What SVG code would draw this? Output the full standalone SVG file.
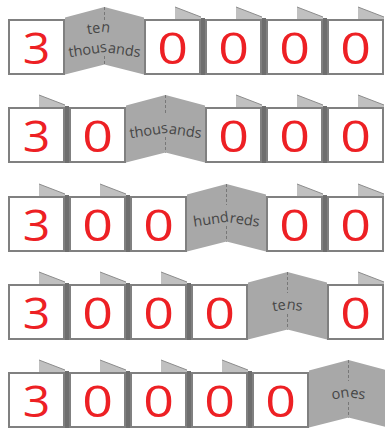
<svg xmlns="http://www.w3.org/2000/svg" xmlns:xlink="http://www.w3.org/1999/xlink" width="385" height="429" viewBox="0 0 385 429">
<style>
.card{fill:#ffffff;stroke:#808080;stroke-width:2}
.tab{fill:#c0c0c0}
.tabedge{stroke:#8c8c8c;stroke-width:1;fill:none}
.side{fill:#6e6e6e}
.panel{fill:#a8a8a8}
.fold{stroke:#777777;stroke-width:1;stroke-dasharray:3 2;fill:none}
.dig{font-family:"Open Sans","DejaVu Sans",sans-serif;font-size:43px;fill:#ed2024;text-anchor:middle}
.lbl{font-family:"Open Sans","DejaVu Sans",sans-serif;font-size:14.5px;fill:#464646;text-anchor:middle}
</style>
<defs>
<g id="tabShape"><polygon class="tab" points="-26,-12 0,-2 0,1 -26,1"/><line class="tabedge" x1="-26" y1="-12" x2="0" y2="-2"/></g>
<rect id="sideShape" class="side" x="0" y="-1" width="4" height="57"/>
<path id="p1a" d="M67.5,37 L104.5,32 L141.5,37"/>
<path id="p1b" d="M67.5,57.5 L104.5,52 L141.5,57.5"/>
<path id="p2" d="M128.5,138.5 L165.5,133 L202.5,138.5"/>
<path id="p3" d="M189.5,227.5 L226.5,222 L263.5,227.5"/>
<path id="p4" d="M250.5,314.5 L287.5,309 L324.5,314.5"/>
<path id="p5" d="M311.5,402.5 L348.5,397 L385.5,402.5"/>
</defs>

<!-- Row 1 -->
<g id="row1">
<g id="r1-c1"><rect class="card" x="9" y="20" width="55" height="54"/><text class="dig" transform="translate(36.5,64) scale(1.12,1)">3</text></g>
<g id="r1-panel"><polygon class="panel" points="65,17.5 104.5,7 144,17.5 144,74.5 104.5,64.5 65,74.5"/><line class="fold" x1="104.5" y1="7" x2="104.5" y2="21"/><line class="fold" x1="104.5" y1="56" x2="104.5" y2="64.5"/><text class="lbl"><textPath href="#p1a" startOffset="42%">ten</textPath></text><text class="lbl"><textPath href="#p1b" startOffset="50%">thousands</textPath></text></g>
<g id="r1-c3"><use href="#tabShape" x="201" y="19"/><use href="#sideShape" x="201" y="19"/><rect class="card" x="145" y="20" width="55" height="54"/><text class="dig" transform="translate(172.5,64) scale(1.25,1)">0</text></g>
<g id="r1-c4"><use href="#tabShape" x="262" y="19"/><use href="#sideShape" x="262" y="19"/><rect class="card" x="206" y="20" width="55" height="54"/><text class="dig" transform="translate(233.5,64) scale(1.25,1)">0</text></g>
<g id="r1-c5"><use href="#tabShape" x="323" y="19"/><use href="#sideShape" x="323" y="19"/><rect class="card" x="267" y="20" width="55" height="54"/><text class="dig" transform="translate(294.5,64) scale(1.25,1)">0</text></g>
<g id="r1-c6"><use href="#tabShape" x="384" y="19"/><rect class="card" x="328" y="20" width="55" height="54"/><text class="dig" transform="translate(355.5,64) scale(1.25,1)">0</text></g>
</g>

<!-- Row 2 -->
<g id="row2">
<g id="r2-c1"><use href="#tabShape" x="65" y="107"/><use href="#sideShape" x="65" y="107"/><rect class="card" x="9" y="108" width="55" height="54"/><text class="dig" transform="translate(36.5,152) scale(1.12,1)">3</text></g>
<g id="r2-c2"><rect class="card" x="70" y="108" width="55" height="54"/><text class="dig" transform="translate(97.5,152) scale(1.25,1)">0</text></g>
<g id="r2-panel"><polygon class="panel" points="126,105.5 165.5,95 205,105.5 205,162.5 165.5,152.5 126,162.5"/><line class="fold" x1="165.5" y1="95" x2="165.5" y2="115"/><line class="fold" x1="165.5" y1="137" x2="165.5" y2="152.5"/><text class="lbl"><textPath href="#p2" startOffset="50%">thousands</textPath></text></g>
<g id="r2-c4"><use href="#tabShape" x="262" y="107"/><use href="#sideShape" x="262" y="107"/><rect class="card" x="206" y="108" width="55" height="54"/><text class="dig" transform="translate(233.5,152) scale(1.25,1)">0</text></g>
<g id="r2-c5"><use href="#tabShape" x="323" y="107"/><use href="#sideShape" x="323" y="107"/><rect class="card" x="267" y="108" width="55" height="54"/><text class="dig" transform="translate(294.5,152) scale(1.25,1)">0</text></g>
<g id="r2-c6"><use href="#tabShape" x="384" y="107"/><rect class="card" x="328" y="108" width="55" height="54"/><text class="dig" transform="translate(355.5,152) scale(1.25,1)">0</text></g>
</g>

<!-- Row 3 -->
<g id="row3">
<g id="r3-c1"><use href="#tabShape" x="65" y="196"/><use href="#sideShape" x="65" y="196"/><rect class="card" x="9" y="197" width="55" height="54"/><text class="dig" transform="translate(36.5,241) scale(1.12,1)">3</text></g>
<g id="r3-c2"><use href="#tabShape" x="126" y="196"/><use href="#sideShape" x="126" y="196"/><rect class="card" x="70" y="197" width="55" height="54"/><text class="dig" transform="translate(97.5,241) scale(1.25,1)">0</text></g>
<g id="r3-c3"><rect class="card" x="131" y="197" width="55" height="54"/><text class="dig" transform="translate(158.5,241) scale(1.25,1)">0</text></g>
<g id="r3-panel"><polygon class="panel" points="187,194.5 226.5,184 266,194.5 266,251.5 226.5,241.5 187,251.5"/><line class="fold" x1="226.5" y1="184" x2="226.5" y2="205"/><line class="fold" x1="226.5" y1="226" x2="226.5" y2="241.5"/><text class="lbl"><textPath href="#p3" startOffset="50%">hundreds</textPath></text></g>
<g id="r3-c5"><use href="#tabShape" x="323" y="196"/><use href="#sideShape" x="323" y="196"/><rect class="card" x="267" y="197" width="55" height="54"/><text class="dig" transform="translate(294.5,241) scale(1.25,1)">0</text></g>
<g id="r3-c6"><use href="#tabShape" x="384" y="196"/><rect class="card" x="328" y="197" width="55" height="54"/><text class="dig" transform="translate(355.5,241) scale(1.25,1)">0</text></g>
</g>

<!-- Row 4 -->
<g id="row4">
<g id="r4-c1"><use href="#tabShape" x="65" y="284"/><use href="#sideShape" x="65" y="284"/><rect class="card" x="9" y="285" width="55" height="54"/><text class="dig" transform="translate(36.5,329) scale(1.12,1)">3</text></g>
<g id="r4-c2"><use href="#tabShape" x="126" y="284"/><use href="#sideShape" x="126" y="284"/><rect class="card" x="70" y="285" width="55" height="54"/><text class="dig" transform="translate(97.5,329) scale(1.25,1)">0</text></g>
<g id="r4-c3"><use href="#tabShape" x="187" y="284"/><use href="#sideShape" x="187" y="284"/><rect class="card" x="131" y="285" width="55" height="54"/><text class="dig" transform="translate(158.5,329) scale(1.25,1)">0</text></g>
<g id="r4-c4"><rect class="card" x="192" y="285" width="55" height="54"/><text class="dig" transform="translate(219.5,329) scale(1.25,1)">0</text></g>
<g id="r4-panel"><polygon class="panel" points="248,282.5 287.5,272 327,282.5 327,339.5 287.5,329.5 248,339.5"/><line class="fold" x1="287.5" y1="272" x2="287.5" y2="293"/><line class="fold" x1="287.5" y1="314" x2="287.5" y2="329.5"/><text class="lbl"><textPath href="#p4" startOffset="50%">tens</textPath></text></g>
<g id="r4-c6"><use href="#tabShape" x="384" y="284"/><rect class="card" x="328" y="285" width="55" height="54"/><text class="dig" transform="translate(355.5,329) scale(1.25,1)">0</text></g>
</g>

<!-- Row 5 -->
<g id="row5">
<g id="r5-c1"><use href="#tabShape" x="65" y="372"/><use href="#sideShape" x="65" y="372"/><rect class="card" x="9" y="373" width="55" height="54"/><text class="dig" transform="translate(36.5,417) scale(1.12,1)">3</text></g>
<g id="r5-c2"><use href="#tabShape" x="126" y="372"/><use href="#sideShape" x="126" y="372"/><rect class="card" x="70" y="373" width="55" height="54"/><text class="dig" transform="translate(97.5,417) scale(1.25,1)">0</text></g>
<g id="r5-c3"><use href="#tabShape" x="187" y="372"/><use href="#sideShape" x="187" y="372"/><rect class="card" x="131" y="373" width="55" height="54"/><text class="dig" transform="translate(158.5,417) scale(1.25,1)">0</text></g>
<g id="r5-c4"><use href="#tabShape" x="248" y="372"/><use href="#sideShape" x="248" y="372"/><rect class="card" x="192" y="373" width="55" height="54"/><text class="dig" transform="translate(219.5,417) scale(1.25,1)">0</text></g>
<g id="r5-c5"><rect class="card" x="253" y="373" width="55" height="54"/><text class="dig" transform="translate(280.5,417) scale(1.25,1)">0</text></g>
<g id="r5-panel"><polygon class="panel" points="309,370.5 348.5,360 388,370.5 388,427.5 348.5,417.5 309,427.5"/><line class="fold" x1="348.5" y1="360" x2="348.5" y2="381"/><line class="fold" x1="348.5" y1="402" x2="348.5" y2="417.5"/><text class="lbl"><textPath href="#p5" startOffset="50%">ones</textPath></text></g>
</g>
</svg>
